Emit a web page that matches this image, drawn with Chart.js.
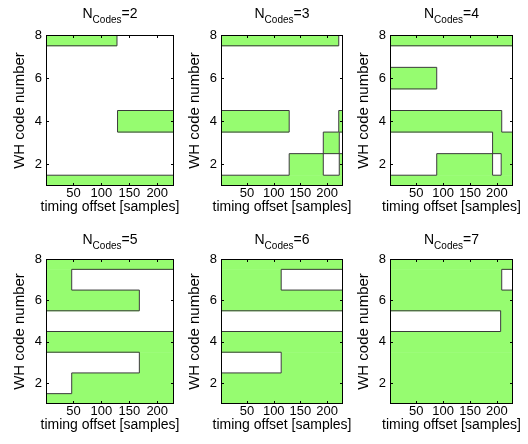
<!DOCTYPE html>
<html>
<head>
<meta charset="utf-8">
<script src="https://cdn.jsdelivr.net/npm/chart.js@4.4.1/dist/chart.umd.min.js"></script>
<style>
  html, body { margin: 0; padding: 0; background: #fff; }
  #fig { position: relative; width: 528px; height: 444px; overflow: hidden; }
  #fig canvas { position: absolute; }
</style>
</head>
<body>
<div id="fig"></div>
<script>
const codeNumbers = [1, 2, 3, 4, 5, 6, 7, 8];
const nCodes = [2, 3, 4, 5, 6, 7];
const xTicks = [50, 100, 150, 200];
const yTicks = [2, 4, 6, 8];
const offsetRange = [1, 230];

// green areas for WH code 1..8, as [from, to] timing offsets
const green2 = [[[1, 230]], [], [], [[129, 230]], [], [], [], [[1, 128]]];
const green3 = [[[1, 230]], [[129, 193], [223, 230]], [[193, 223]], [[1, 129], [222, 230]], [], [], [], [[1, 222]]];
const green4 = [[[1, 230]], [[88, 192], [208, 230]], [[192, 230]], [[1, 209]], [], [[1, 88]], [], [[1, 230]]];
const green5 = [[[1, 230]], [[47, 230]], [[168, 230]], [[1, 230]], [], [[1, 168]], [[1, 47]], [[1, 230]]];
const green6 = [[[1, 230]], [[1, 230]], [[114, 230]], [[1, 230]], [], [[1, 230]], [[1, 114]], [[1, 230]]];
const green7 = [[[1, 230]], [[1, 230]], [[1, 230]], [[1, 230]], [[207, 230]], [[1, 230]], [[1, 209]], [[1, 230]]];
const greens = [green2, green3, green4, green5, green6, green7];

const GREEN = 'rgb(150, 252, 112)';
const EDGE = '#3a3a3a';
const FONT = '"Liberation Sans", Arial, sans-serif';
const TICK = 3;

// axes boxes in page px: left, top, right, bottom
const boxes = [
  [46, 35, 174, 186], [221, 35, 343, 186], [390, 35, 513, 186],
  [46, 259, 174, 404], [221, 259, 343, 404], [390, 259, 513, 404]
];
const titleGap = [17.5, 17.5, 17.5, 15.5, 15.5, 15.5];

function inside(segs, v) {
  return segs.some(([a, b]) => v > a && v < b);
}

// parts of a row border where only one of the two rows is green
function xorSegments(s1, s2) {
  const pts = [...new Set([...s1.flat(), ...s2.flat()])].sort((p, q) => p - q);
  const out = [];
  for (let k = 0; k < pts.length - 1; k++) {
    const mid = (pts[k] + pts[k + 1]) / 2;
    if (inside(s1, mid) !== inside(s2, mid)) {
      const last = out[out.length - 1];
      if (last && last[1] === pts[k]) last[1] = pts[k + 1];
      else out.push([pts[k], pts[k + 1]]);
    }
  }
  return out;
}

function edge(p0, p1) {
  return {
    data: [p0, p1], borderColor: EDGE, borderWidth: 1, fill: false,
    pointRadius: 0, order: 0, clip: 0
  };
}

function buildDatasets(rows) {
  const sets = [];
  const lo = offsetRange[0], hi = offsetRange[1];
  const yMin = codeNumbers[0], yMax = codeNumbers[codeNumbers.length - 1];
  rows.forEach((segs, i) => {
    const code = codeNumbers[i];
    segs.forEach(([a, b]) => {
      sets.push({
        data: [{x: a, y: code + 0.5}, {x: b, y: code + 0.5}],
        fill: {value: code - 0.52},
        backgroundColor: GREEN, borderColor: 'rgba(0,0,0,0)', borderWidth: 0,
        pointRadius: 0, order: 2, clip: 0
      });
    });
  });
  rows.forEach((segs, i) => {
    const code = codeNumbers[i];
    const y0 = Math.max(yMin, code - 0.5), y1 = Math.min(yMax, code + 0.5);
    segs.forEach(seg => seg.forEach(x => {
      if (x > lo && x < hi) sets.push(edge({x: x, y: y0}, {x: x, y: y1}));
    }));
    if (i < rows.length - 1) {
      xorSegments(segs, rows[i + 1]).forEach(([a, b]) => {
        sets.push(edge({x: a, y: code + 0.5}, {x: b, y: code + 0.5}));
      });
    }
  });
  return sets;
}

const boxPlugin = {
  id: 'box',
  afterDatasetsDraw(chart) {
    const {ctx, chartArea: a, scales: {x, y}} = chart;
    ctx.save();
    ctx.strokeStyle = '#000';
    ctx.lineWidth = 1;
    ctx.strokeRect(a.left + 0.5, a.top + 0.5, a.width - 1, a.height - 1);
    ctx.beginPath();
    xTicks.forEach(v => {
      const px = Math.round(x.getPixelForValue(v)) + 0.5;
      ctx.moveTo(px, a.bottom); ctx.lineTo(px, a.bottom - TICK);
      ctx.moveTo(px, a.top); ctx.lineTo(px, a.top + TICK);
    });
    yTicks.forEach(v => {
      const py = Math.round(y.getPixelForValue(v)) + 0.5;
      ctx.moveTo(a.left, py); ctx.lineTo(a.left + TICK, py);
      ctx.moveTo(a.right, py); ctx.lineTo(a.right - TICK, py);
    });
    ctx.stroke();
    ctx.restore();
  }
};

const labelPlugin = {
  id: 'labels',
  afterDraw(chart, args, opts) {
    const {ctx, chartArea: a} = chart;
    const cx = (a.left + a.right) / 2;
    ctx.save();
    ctx.fillStyle = '#000';
    // title N_Codes=n
    const big = '14px ' + FONT, small = '10px ' + FONT;
    const parts = [['N', big, 0], ['Codes', small, 5], ['=' + opts.n, big, 0]];
    let total = 0;
    parts.forEach(p => { ctx.font = p[1]; p.push(ctx.measureText(p[0]).width); total += p[3]; });
    let tx = cx - total / 2;
    const base = a.top - opts.gap;
    ctx.textAlign = 'left';
    ctx.textBaseline = 'alphabetic';
    parts.forEach(p => { ctx.font = p[1]; ctx.fillText(p[0], tx, base + p[2]); tx += p[3]; });
    // x label
    ctx.font = '14px ' + FONT;
    ctx.textAlign = 'center';
    ctx.textBaseline = 'middle';
    ctx.fillText('timing offset [samples]', cx, a.bottom + 21.5);
    // y label
    ctx.font = '15px ' + FONT;
    ctx.translate(a.left - 26, (a.top + a.bottom) / 2);
    ctx.rotate(-Math.PI / 2);
    ctx.fillText('WH code number', 0, 0);
    ctx.restore();
  }
};

const fig = document.getElementById('fig');
nCodes.forEach((n, k) => {
  const [L, T, R, B] = boxes[k];
  const left = L - 40, top = T - 30;
  const w = R + 8 - left, h = B + 32 - top;
  const c = document.createElement('canvas');
  c.width = w; c.height = h;
  c.style.left = left + 'px'; c.style.top = top + 'px';
  c.style.width = w + 'px'; c.style.height = h + 'px';
  fig.appendChild(c);

  new Chart(c, {
    type: 'line',
    data: {datasets: buildDatasets(greens[k])},
    options: {
      responsive: false,
      devicePixelRatio: 1,
      animation: false,
      events: [],
      layout: {padding: {left: 0, top: 30, right: 8, bottom: 0}},
      plugins: {
        legend: {display: false},
        tooltip: {enabled: false},
        labels: {n: n, gap: titleGap[k]}
      },
      scales: {
        x: {
          type: 'linear', min: offsetRange[0], max: offsetRange[1],
          grid: {display: false, drawTicks: false}, border: {display: false},
          afterBuildTicks: s => { s.ticks = xTicks.map(v => ({value: v})); },
          afterFit: s => { s.height = 32; },
          ticks: {color: '#000', font: {family: FONT, size: 13}, padding: 0, maxRotation: 0, autoSkip: false}
        },
        y: {
          type: 'linear', min: codeNumbers[0], max: codeNumbers[codeNumbers.length - 1],
          grid: {display: false, drawTicks: false}, border: {display: false},
          afterBuildTicks: s => { s.ticks = yTicks.map(v => ({value: v})); },
          afterFit: s => { s.width = 40; },
          ticks: {color: '#000', font: {family: FONT, size: 13}, padding: 4}
        }
      }
    },
    plugins: [boxPlugin, labelPlugin]
  });
});
</script>
</body>
</html>
